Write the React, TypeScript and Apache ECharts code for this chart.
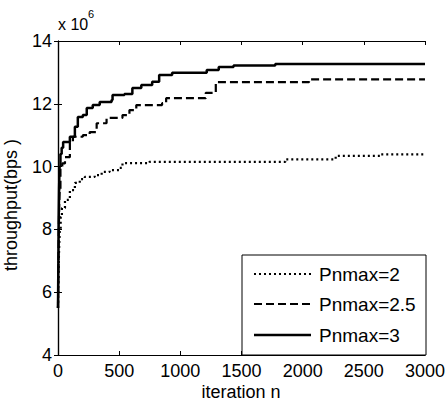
import React, { useEffect, useRef } from "react";
import * as echarts from "echarts";

// Throughput (in units of 10^6 bps) against iteration count, one staircase per power cap.
const pnmax2Iter = [0, 3, 6, 10, 15, 22, 32, 57, 97, 138, 178, 219, 300, 357, 422, 503, 527, 746, 1858, 2270, 2635, 3000];
const pnmax2Thr = [5.5, 6.2, 6.9, 7.5, 8.0, 8.4, 8.68, 8.94, 9.25, 9.48, 9.6, 9.67, 9.73, 9.83, 9.89, 9.96, 10.11, 10.15, 10.23, 10.34, 10.39, 10.39];

const pnmax25Iter = [0, 3, 6, 10, 14, 20, 35, 57, 97, 122, 203, 259, 316, 397, 527, 584, 640, 851, 884, 1208, 1290, 2052, 3000];
const pnmax25Thr = [5.5, 6.8, 7.8, 8.8, 9.3, 9.9, 10.1, 10.3, 10.75, 10.95, 11.0, 11.1, 11.38, 11.55, 11.64, 11.8, 11.96, 12.02, 12.18, 12.35, 12.69, 12.78, 12.78];

const pnmax3Iter = [0, 3, 6, 9, 13, 20, 30, 42, 97, 138, 162, 203, 235, 284, 341, 438, 446, 543, 608, 681, 770, 827, 933, 1216, 1314, 1435, 1776, 3000];
const pnmax3Thr = [5.5, 7.0, 8.4, 9.3, 10.0, 10.4, 10.6, 10.78, 10.95, 11.27, 11.58, 11.64, 11.87, 11.96, 12.06, 12.12, 12.28, 12.31, 12.5, 12.6, 12.7, 12.92, 12.99, 13.08, 13.17, 13.22, 13.27, 13.27];

const seriesNames = ["Pnmax=2", "Pnmax=2.5", "Pnmax=3"];
const xTicks = { min: 0, max: 3000, interval: 500 };
const yTicks = { min: 4, max: 14, interval: 2 };

const FONT = "'Liberation Sans', Arial, sans-serif";

// line dash / width for each series, shared by the plot and the legend key
const lineStyles = [
  { width: 2.2, type: [2, 3] as number[] | "solid" },
  { width: 2.2, type: [8, 4] as number[] | "solid" },
  { width: 2.5, type: "solid" as number[] | "solid" },
];

const pairs = (xs: number[], ys: number[]) => xs.map((x, i) => [x, ys[i]]);

export default function App() {
  const ref = useRef<HTMLDivElement>(null);

  useEffect(() => {
    if (!ref.current) return;
    const chart = echarts.init(ref.current, undefined, { renderer: "svg" });

    const axisCommon = {
      type: "value" as const,
      splitLine: { show: false },
      axisLine: { show: true, lineStyle: { color: "#000", width: 1.2 } },
      axisTick: { show: true, inside: true, length: 4, lineStyle: { color: "#000" } },
    };

    // framed legend key in the lower-right of the plot
    const legendBox = { x: 242, y: 255, w: 184, h: 100 };
    const rowY = [274, 304, 335];
    const legendGraphics: any[] = [
      {
        type: "rect",
        shape: { x: legendBox.x, y: legendBox.y, width: legendBox.w, height: legendBox.h },
        style: { fill: "#fff", stroke: "#000", lineWidth: 1 },
        z: 100,
      },
    ];
    seriesNames.forEach((name, i) => {
      const ls = lineStyles[i];
      legendGraphics.push({
        type: "line",
        shape: { x1: 254, y1: rowY[i], x2: 311, y2: rowY[i] },
        style: {
          stroke: "#000",
          lineWidth: ls.width,
          lineDash: ls.type === "solid" ? null : ls.type,
        },
        z: 101,
      });
      legendGraphics.push({
        type: "text",
        x: 319,
        y: rowY[i],
        style: { text: name, fill: "#000", font: `19px ${FONT}`, verticalAlign: "middle" },
        z: 101,
      });
    });

    chart.setOption({
      animation: false,
      backgroundColor: "#fff",
      textStyle: { fontFamily: FONT },
      grid: { left: 58, top: 41, right: 20, bottom: 51 },
      xAxis: [
        {
          ...axisCommon,
          ...xTicks,
          position: "bottom",
          axisLabel: {
            color: "#000",
            fontSize: 18,
            fontFamily: FONT,
            margin: 7,
            formatter: (v: number) => String(v),
          },
        },
        {
          ...axisCommon,
          ...xTicks,
          position: "top",
          axisLabel: { show: false },
        },
      ],
      yAxis: [
        {
          ...axisCommon,
          ...yTicks,
          position: "left",
          axisLabel: {
            color: "#000",
            fontSize: 18,
            fontFamily: FONT,
            margin: 6,
            formatter: (v: number) => String(v),
          },
        },
        {
          ...axisCommon,
          ...yTicks,
          position: "right",
          axisLabel: { show: false },
        },
      ],
      series: [pnmax2Iter, pnmax25Iter, pnmax3Iter].map((xs, i) => ({
        name: seriesNames[i],
        type: "line",
        step: "end",
        symbol: "none",
        data: pairs(xs, [pnmax2Thr, pnmax25Thr, pnmax3Thr][i]),
        lineStyle: { color: "#000", width: lineStyles[i].width, type: lineStyles[i].type },
        itemStyle: { color: "#000" },
      })),
      graphic: [
        {
          type: "text",
          left: 58,
          top: 16,
          style: { text: "x 10", fill: "#000", font: `16px ${FONT}` },
        },
        {
          type: "text",
          left: 88,
          top: 8,
          style: { text: "6", fill: "#000", font: `11px ${FONT}` },
        },
        {
          type: "text",
          x: 11,
          y: 205,
          rotation: Math.PI / 2,
          style: {
            text: "throughput(bps )",
            fill: "#000",
            font: `18px ${FONT}`,
            align: "center",
            verticalAlign: "middle",
          },
        },
        {
          type: "text",
          x: 241,
          y: 392,
          style: {
            text: "iteration n",
            fill: "#000",
            font: `18px ${FONT}`,
            align: "center",
            verticalAlign: "middle",
          },
        },
        ...legendGraphics,
      ],
    });

    return () => chart.dispose();
  }, []);

  return <div ref={ref} style={{ width: 448, height: 406, position: "absolute", left: 0, top: 0 }} />;
}
